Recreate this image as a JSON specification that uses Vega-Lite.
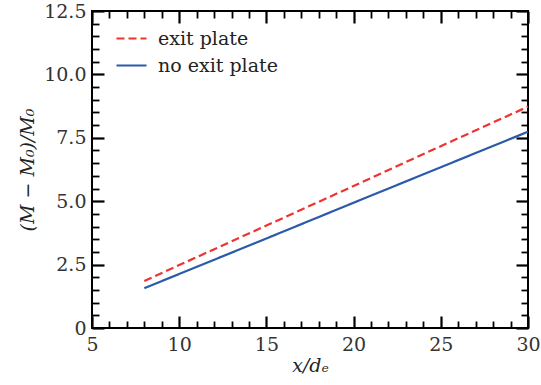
{
  "$schema": "https://vega.github.io/schema/vega-lite/v6.json",
  "width": 436,
  "height": 317,
  "autosize": "none",
  "padding": {"left": 92, "top": 11, "right": 13, "bottom": 57},
  "background": "white",
  "config": {
    "view": {"stroke": "black", "strokeWidth": 2},
    "font": "DejaVu Serif",
    "axis": {
      "grid": false,
      "domain": false,
      "labelFont": "DejaVu Serif",
      "labelFontSize": 19,
      "labelColor": "#333333",
      "tickColor": "black",
      "titleFont": "DejaVu Serif",
      "titleFontSize": 19,
      "titleFontWeight": "normal",
      "titleFontStyle": "italic",
      "titleColor": "#222222",
      "labelFlush": false,
      "labelOverlap": false
    },
    "legend": {
      "labelFont": "DejaVu Serif",
      "labelFontSize": 19,
      "labelColor": "#222222"
    }
  },
  "data": {
    "values": [
      {"x": 8, "y": 1.85, "series": "exit plate"},
      {"x": 10, "y": 2.48, "series": "exit plate"},
      {"x": 15, "y": 4.04, "series": "exit plate"},
      {"x": 20, "y": 5.60, "series": "exit plate"},
      {"x": 25, "y": 7.17, "series": "exit plate"},
      {"x": 30, "y": 8.73, "series": "exit plate"},
      {"x": 8, "y": 1.57, "series": "no exit plate"},
      {"x": 10, "y": 2.13, "series": "no exit plate"},
      {"x": 15, "y": 3.53, "series": "no exit plate"},
      {"x": 20, "y": 4.94, "series": "no exit plate"},
      {"x": 25, "y": 6.34, "series": "no exit plate"},
      {"x": 30, "y": 7.74, "series": "no exit plate"}
    ]
  },
  "resolve": {"axis": {"x": "independent", "y": "independent"}},
  "layer": [
    {
      "transform": [{"filter": "datum.series === 'exit plate'"}],
      "mark": {"type": "line", "strokeWidth": 2.2},
      "encoding": {
        "x": {
          "field": "x", "type": "quantitative",
          "scale": {"domain": [5, 30], "nice": false, "zero": false},
          "axis": {
            "orient": "bottom",
            "title": "x/dₑ",
            "titlePadding": 2,
            "values": [5,6,7,8,9,10,11,12,13,14,15,16,17,18,19,20,21,22,23,24,25,26,27,28,29,30],
            "labelExpr": "datum.value % 5 === 0 ? format(datum.value, 'd') : ''",
            "tickSize": {"condition": {"test": "datum.value % 5 === 0", "value": -12}, "value": -7},
            "tickWidth": {"condition": {"test": "datum.value % 5 === 0", "value": 2.2}, "value": 1.8},
            "labelPadding": {"condition": {"test": "datum.value % 5 === 0", "value": 19}, "value": 14}
          }
        },
        "y": {
          "field": "y", "type": "quantitative",
          "scale": {"domain": [0, 12.5], "nice": false},
          "axis": {
            "orient": "left",
            "title": "(M − M₀)/M₀",
            "titlePadding": 6,
            "values": [0,0.5,1,1.5,2,2.5,3,3.5,4,4.5,5,5.5,6,6.5,7,7.5,8,8.5,9,9.5,10,10.5,11,11.5,12,12.5],
            "labelExpr": "datum.value % 2.5 === 0 ? (datum.value === 0 ? '0' : format(datum.value, '.1f')) : ''",
            "tickSize": {"condition": {"test": "datum.value % 2.5 === 0", "value": -12}, "value": -7},
            "tickWidth": {"condition": {"test": "datum.value % 2.5 === 0", "value": 2.2}, "value": 1.8},
            "labelPadding": {"condition": {"test": "datum.value % 2.5 === 0", "value": 18}, "value": 13}
          }
        },
        "color": {
          "field": "series", "type": "nominal",
          "scale": {"domain": ["exit plate", "no exit plate"], "range": ["#ee3333", "#2b5ba8"]},
          "legend": {
            "title": null,
            "orient": "none",
            "legendX": 23,
            "legendY": 11,
            "padding": 0,
            "symbolType": "stroke",
            "symbolSize": 900,
            "symbolStrokeWidth": 2.2,
            "labelOffset": 10,
            "rowPadding": -16
          }
        },
        "strokeDash": {
          "field": "series", "type": "nominal",
          "scale": {"domain": ["exit plate", "no exit plate"], "range": [[8, 4], [1, 0]]},
          "legend": null
        }
      }
    },
    {
      "transform": [{"filter": "datum.series === 'no exit plate'"}],
      "mark": {"type": "line", "strokeWidth": 2.2},
      "encoding": {
        "x": {
          "field": "x", "type": "quantitative",
          "scale": {"domain": [5, 30], "nice": false, "zero": false},
          "axis": {
            "orient": "top",
            "title": null,
            "labels": false,
            "values": [5,6,7,8,9,10,11,12,13,14,15,16,17,18,19,20,21,22,23,24,25,26,27,28,29,30],
            "tickSize": {"condition": {"test": "datum.value % 5 === 0", "value": -12}, "value": -7},
            "tickWidth": {"condition": {"test": "datum.value % 5 === 0", "value": 2.2}, "value": 1.8}
          }
        },
        "y": {
          "field": "y", "type": "quantitative",
          "scale": {"domain": [0, 12.5], "nice": false},
          "axis": {
            "orient": "right",
            "title": null,
            "labels": false,
            "values": [0,0.5,1,1.5,2,2.5,3,3.5,4,4.5,5,5.5,6,6.5,7,7.5,8,8.5,9,9.5,10,10.5,11,11.5,12,12.5],
            "tickSize": {"condition": {"test": "datum.value % 2.5 === 0", "value": -12}, "value": -7},
            "tickWidth": {"condition": {"test": "datum.value % 2.5 === 0", "value": 2.2}, "value": 1.8}
          }
        },
        "color": {
          "field": "series", "type": "nominal",
          "scale": {"domain": ["exit plate", "no exit plate"], "range": ["#ee3333", "#2b5ba8"]}
        },
        "strokeDash": {
          "field": "series", "type": "nominal",
          "scale": {"domain": ["exit plate", "no exit plate"], "range": [[8, 4], [1, 0]]},
          "legend": null
        }
      }
    }
  ]
}
